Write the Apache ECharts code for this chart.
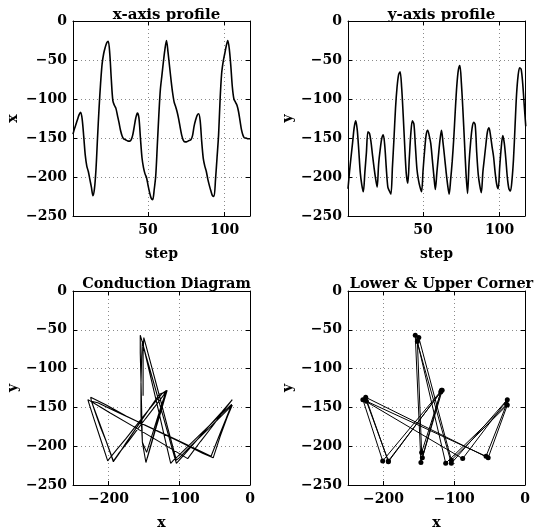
<!DOCTYPE html>
<html>
<head>
<meta charset="utf-8">
<script src="https://cdn.jsdelivr.net/npm/echarts@6/dist/echarts.min.js"></script>
<style>html,body{margin:0;padding:0;background:#fff;}#c{width:535px;height:531px;}</style>
</head>
<body>
<div id="c"></div>
<script>
// ---- data ----
const steps = [1,2,3,4,5,6,7,8,9,10,11,12,13,14,15,16,17,18,19,20,21,22,23,24,25,26,27,28,29,30,
31,32,33,34,35,36,37,38,39,40,41,42,43,44,45,46,47,48,49,50,51,52,53,54,55,56,57,58,59,60,
61,62,63,64,65,66,67,68,69,70,71,72,73,74,75,76,77,78,79,80,81,82,83,84,85,86,87,88,89,90,
91,92,93,94,95,96,97,98,99,100,101,102,103,104,105,106,107,108,109,110,111,112,113,114,115,116,117];
const xProfile = [-145,-138,-132,-126,-120,-117,-126,-148,-172,-186,-193,-203,-213,-224,-215,-190,-150,-112,-80,-55,
-42,-34,-28,-26,-42,-75,-102,-108,-112,-121,-130,-140,-147,-151,-152,-153,-154,-154,-152,-146,
-135,-124,-118,-124,-150,-175,-188,-196,-201,-211,-220,-227,-229,-216,-198,-160,-121,-88,-70,-52,
-36,-25,-40,-58,-76,-92,-104,-110,-117,-126,-137,-147,-153,-155,-155,-154,-153,-152,-147,-135,
-127,-121,-119,-128,-155,-176,-186,-193,-203,-211,-218,-224,-225,-203,-175,-146,-100,-67,-52,-42,
-32,-25,-36,-58,-85,-100,-104,-108,-116,-128,-140,-147,-150,-150,-151,-151,-151];
const yProfile = [-215,-193,-174,-156,-137,-128,-139,-165,-194,-210,-219,-194,-169,-142,-144,-155,-172,-188,-202,-213,
-183,-165,-151,-146,-160,-189,-213,-218,-222,-187,-151,-112,-85,-69,-65,-85,-120,-160,-195,-208,
-176,-144,-128,-132,-161,-190,-204,-213,-219,-191,-166,-146,-140,-147,-157,-177,-198,-216,-194,-173,
-153,-140,-156,-174,-193,-210,-222,-203,-180,-151,-115,-83,-63,-57,-80,-115,-155,-195,-221,-182,
-156,-137,-130,-133,-169,-197,-211,-220,-194,-176,-158,-142,-137,-147,-161,-174,-194,-209,-215,-187,
-162,-147,-157,-177,-201,-215,-218,-204,-177,-135,-94,-70,-60,-62,-80,-108,-135];
// steps at which y turns (lower & upper corners)
const cornerSteps = [1,6,11,14,20,24,29,35,40,43,49,53,58,62,67,74,79,83,88,93,99,102,107,113];
const stepTicks = [50,100];
const coordTicks = [-200,-100,0];
const titles = ['x-axis profile','y-axis profile','Conduction Diagram','Lower & Upper Corner'];
const xNames = ['step','step','x','x'];
const yNames = ['x','y','y','y'];

// ---- chart ----
const FONT = 'DejaVu Serif';
const fmt = v => String(v).replace('-', '\u2212');
const grids = [
  {left:73, top:21, width:177, height:195},
  {left:348, top:21, width:177, height:195},
  {left:73, top:291, width:177, height:196},
  {left:348, top:291, width:177, height:196}
];
const gridLine = {show:true, lineStyle:{color:'#8a8a8a', type:[1,3], width:1}};
const xAxes = [], yAxes = [];
grids.forEach((g, i) => {
  const isProfile = i < 2;
  const xmin = isProfile ? 1 : -250, xmax = isProfile ? 116.5 : 0;
  const ticks = isProfile ? stepTicks : coordTicks;
  xAxes.push({
    type:'value', gridIndex:i, min:xmin, max:xmax, position:'bottom',
    name:xNames[i], nameLocation:'middle', nameGap:31,
    nameTextStyle:{fontFamily:FONT, fontWeight:'bold', fontSize:14, color:'#000'},
    axisLine:{show:true, onZero:false, lineStyle:{color:'#000', width:1}},
    axisTick:{show:true, inside:true, length:4, customValues:ticks, lineStyle:{color:'#000'}},
    axisLabel:{show:true, customValues:ticks, formatter:fmt, margin:7,
      fontFamily:FONT, fontWeight:'bold', fontSize:14, color:'#000'},
    splitLine:Object.assign({}, gridLine)
  });
  xAxes.push({
    type:'value', gridIndex:i, min:xmin, max:xmax, position:'top',
    axisLine:{show:true, onZero:false, lineStyle:{color:'#000', width:1}},
    axisTick:{show:true, inside:true, length:4, customValues:ticks, lineStyle:{color:'#000'}},
    axisLabel:{show:false}, splitLine:{show:false}
  });
  yAxes.push({
    type:'value', gridIndex:i, min:-250, max:0, interval:50, position:'left',
    name:yNames[i], nameLocation:'middle', nameGap:53, nameRotate:90,
    nameTextStyle:{fontFamily:FONT, fontWeight:'bold', fontSize:14, color:'#000'},
    axisLine:{show:true, onZero:false, lineStyle:{color:'#000', width:1}},
    axisTick:{show:true, inside:true, length:4, lineStyle:{color:'#000'}},
    axisLabel:{show:true, formatter:fmt, margin:6,
      fontFamily:FONT, fontWeight:'bold', fontSize:14, color:'#000'},
    splitLine:Object.assign({}, gridLine)
  });
  yAxes.push({
    type:'value', gridIndex:i, min:-250, max:0, interval:50, position:'right',
    axisLine:{show:true, onZero:false, lineStyle:{color:'#000', width:1}},
    axisTick:{show:true, inside:true, length:4, lineStyle:{color:'#000'}},
    axisLabel:{show:false}, splitLine:{show:false}
  });
});

const profX = steps.map((s, k) => [s, xProfile[k]]);
const profY = steps.map((s, k) => [s, yProfile[k]]);
const cond = steps.map((s, k) => [xProfile[k], yProfile[k]]);
const corners = cornerSteps.map(s => { const k = steps.indexOf(s); return [xProfile[k], yProfile[k]]; });

const lineBase = {type:'line', showSymbol:false, silent:true, animation:false,
  lineStyle:{color:'#000', width:1.6}, itemStyle:{color:'#000'}};

const option = {
  backgroundColor:'#fff',
  animation:false,
  title: titles.map((t, i) => ({
    text:t, left:grids[i].left + grids[i].width/2, top: i < 2 ? 3 : 272, textAlign:'center',
    textStyle:{fontFamily:FONT, fontWeight:'bold', fontSize: i < 2 ? 15 : 14.5, color:'#000'}
  })),
  grid: grids.map(g => Object.assign({containLabel:false}, g)),
  xAxis: xAxes,
  yAxis: yAxes,
  series: [
    Object.assign({}, lineBase, {xAxisIndex:0, yAxisIndex:0, data:profX, smooth:0.3}),
    Object.assign({}, lineBase, {xAxisIndex:2, yAxisIndex:2, data:profY, smooth:0.3}),
    Object.assign({}, lineBase, {xAxisIndex:4, yAxisIndex:4, data:cond, lineStyle:{color:'#000', width:1.1}}),
    Object.assign({}, lineBase, {xAxisIndex:6, yAxisIndex:6, data:corners, showSymbol:true,
      symbol:'circle', symbolSize:5, lineStyle:{color:'#000', width:1}})
  ]
};
const chart = echarts.init(document.getElementById('c'), null, {renderer:'canvas'});
chart.setOption(option);
</script>
</body>
</html>
